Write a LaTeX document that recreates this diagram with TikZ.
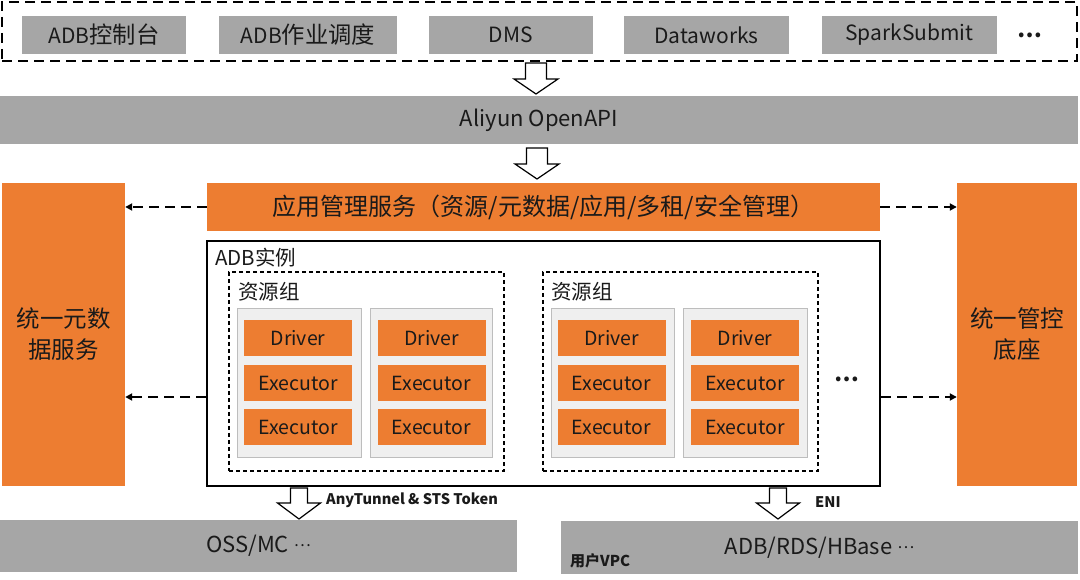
\documentclass[tikz,border=0pt]{standalone}
\usepackage{fontspec}
\setmainfont{Noto Sans CJK SC}
\newfontfamily\zhfont[Scale=1.11]{Noto Sans CJK SC}
\newcommand{\zh}[1]{{\zhfont #1}}
\newcommand{\middots}{\raisebox{6pt}{\fontsize{16}{16}\selectfont …}}
\usetikzlibrary{arrows.meta}
\definecolor{gbar}{HTML}{A6A6A6}
\definecolor{orng}{HTML}{ED7D31}
\definecolor{lgrey}{HTML}{EFEFEF}
\definecolor{lborder}{HTML}{BDBDBD}
\definecolor{txt}{HTML}{1A1A1A}
\tikzset{
  greybox/.style={draw=none, fill=gbar, inner sep=0pt, text=txt, font=\fontsize{21}{24}\selectfont},
  orangebox/.style={draw=none, fill=orng, inner sep=0pt, text=txt, font=\fontsize{23.5}{31}\selectfont, align=center},
  smallbox/.style={draw=none, fill=orng, inner sep=0pt, minimum width=108pt, minimum height=36pt, text=txt, font=\fontsize{19.5}{21}\selectfont},
  podbox/.style={draw=lborder, line width=1pt, fill=lgrey, inner sep=0pt, minimum width=123pt, minimum height=148pt},
  groupbox/.style={draw=black, dashed, dash pattern=on 4pt off 3pt, line width=1.1pt, inner sep=0pt, minimum width=275pt, minimum height=199pt},
  lbl/.style={inner sep=0pt, anchor=west, text=txt, font=\fontsize{20.5}{22}\selectfont},
  boldlbl/.style={inner sep=0pt, anchor=west, text=txt, font=\bfseries\fontsize{14.6}{16}\selectfont},
  dasharrow/.style={line width=2pt, dash pattern=on 10pt off 6pt, -{Triangle[length=7pt,width=7pt]}},
  hollow/.pic={\draw[line width=1.2pt, fill=white, line join=miter] (-10.5,0) -- (10.5,0) -- (10.5,16) -- (22,16) -- (0,31) -- (-22,16) -- (-10.5,16) -- cycle;},
  hollowsm/.pic={\draw[line width=1.2pt, fill=white, line join=miter] (-8.5,0) -- (8.5,0) -- (8.5,15) -- (21.5,15) -- (0,31) -- (-21.5,15) -- (-8.5,15) -- cycle;}
}
\begin{document}
\begin{tikzpicture}[x=1pt, y=-1pt]
\useasboundingbox (0,0) rectangle (1080,580);
\fill[white] (0,0) rectangle (1080,580);

% top dashed frame
\node[draw=black, line width=2pt, dash pattern=on 10pt off 6pt, inner sep=0pt, minimum width=1075pt, minimum height=59pt] (topframe) at (539.5,31.5) {};
\node[greybox, minimum width=164pt, minimum height=38pt] (t1) at (104,35) {ADB\zh{控制台}};
\node[greybox, minimum width=178pt, minimum height=38pt] (t2) at (308,35) {ADB\zh{作业调度}};
\node[greybox, minimum width=164pt, minimum height=38pt] (t3) at (511,35) {DMS};
\node[greybox, minimum width=165pt, minimum height=38pt] (t4) at (706.5,35) {Dataworks};
\node[greybox, minimum width=175pt, minimum height=38pt] (t5) at (909.5,35) {SparkSubmit};
\node[inner sep=0pt, text=txt, font=\bfseries\fontsize{22}{24}\selectfont] (tdots) at (1030,35) {…};

\pic at (536,63) {hollow};

\node[greybox, minimum width=1078pt, minimum height=48pt, font=\fontsize{22}{24}\selectfont] (api) at (539,120) {Aliyun OpenAPI};

\pic at (537,148) {hollow};

% app management
\node[orangebox, minimum width=673pt, minimum height=48pt, font=\fontsize{24}{26}\selectfont] (app) at (543.5,207) {应用管理服务（资源/元数据/应用/多租/安全管理）};

% side columns
\node[orangebox, minimum width=123pt, minimum height=303pt] (left) at (63.5,334.5) {统一元数\\据服务};
\node[orangebox, minimum width=120pt, minimum height=303pt] (right) at (1017,334.5) {统一管控\\底座};

% ADB instance
\node[draw=black, line width=2pt, inner sep=0pt, minimum width=673pt, minimum height=245pt] (adb) at (543.5,363.5) {};
\node[lbl] (adblbl) at (215,258) {ADB实例};

\node[groupbox] (g1) at (366.5,371.5) {};
\node[groupbox] (g2) at (680.5,371.5) {};
\node[lbl] (g1lbl) at (238,292) {资源组};
\node[lbl] (g2lbl) at (551,292) {资源组};

\node[podbox, minimum width=124pt] (p1) at (299,383) {};
\node[podbox, minimum width=122pt] (p2) at (431,383) {};
\node[podbox, minimum width=123pt] (p3) at (612.5,383) {};
\node[podbox, minimum width=124pt] (p4) at (745,383) {};

\foreach \n/\cx in {1/298, 2/431.5, 3/611.5, 4/745} {
  \node[smallbox] (d\n) at (\cx,338) {Driver};
  \node[smallbox] (ea\n) at (\cx,383) {Executor};
  \node[smallbox] (eb\n) at (\cx,427) {Executor};
}
\node[inner sep=0pt, text=txt, font=\bfseries\fontsize{22}{24}\selectfont] (mdots) at (847,379) {…};

% dashed arrows
\coordinate (ya) at (0,207);
\coordinate (yb) at (0,397);
\draw[dasharrow] (app.west) -- (ya -| left.east);
\draw[dasharrow] (app.east) -- (ya -| right.west);
\draw[dasharrow] (yb -| adb.west) -- (yb -| left.east);
\draw[dasharrow] (yb -| adb.east) -- (yb -| right.west);

% bottom arrows
\pic at (299,488) {hollowsm};
\pic at (778,488) {hollowsm};
\node[boldlbl] (anyt) at (326,500) {AnyTunnel \& STS Token};
\node[boldlbl] (eni) at (815,502) {ENI};

% bottom bars
\node[greybox, minimum width=517pt, minimum height=52pt, font=\fontsize{22}{24}\selectfont] (oss) at (258.5,546) {OSS/MC \middots};
\node[greybox, minimum width=517pt, minimum height=53pt, font=\fontsize{22}{24}\selectfont] (vpc) at (819.5,547.5) {ADB/RDS/HBase \middots};
\node[boldlbl, font=\bfseries\fontsize{15}{16}\selectfont] (vpclbl) at (570,561) {用户VPC};
\end{tikzpicture}
\end{document}
